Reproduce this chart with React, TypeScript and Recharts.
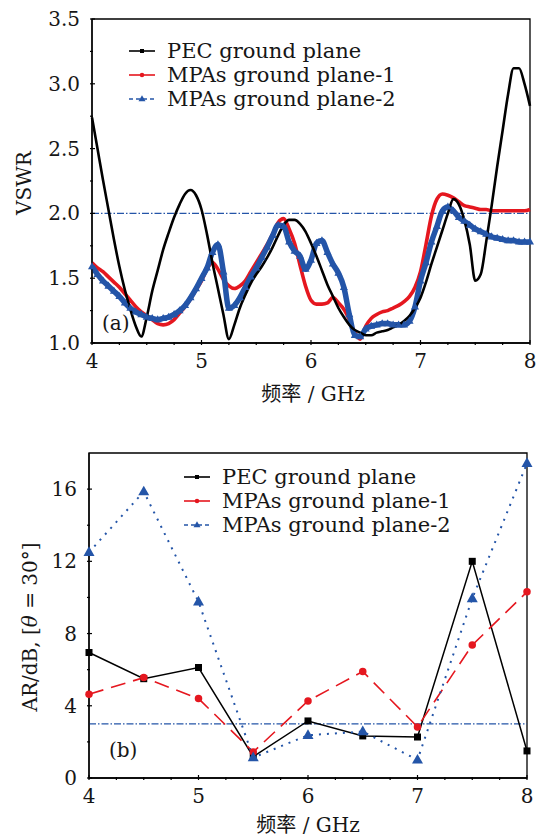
import React from "react";
import {
  LineChart,
  Line,
  XAxis,
  YAxis,
  ReferenceLine,
  ReferenceArea,
  Legend,
} from "recharts";

// ---- VSWR sweep, 4–8 GHz in 50 MHz steps ----
const freqGHz = [
  4.0, 4.05, 4.1, 4.15, 4.2, 4.25, 4.3, 4.35, 4.4, 4.45,
  4.5, 4.55, 4.6, 4.65, 4.7, 4.75, 4.8, 4.85, 4.9, 4.95,
  5.0, 5.05, 5.1, 5.15, 5.2, 5.25, 5.3, 5.35, 5.4, 5.45,
  5.5, 5.55, 5.6, 5.65, 5.7, 5.75, 5.8, 5.85, 5.9, 5.95,
  6.0, 6.05, 6.1, 6.15, 6.2, 6.25, 6.3, 6.35, 6.4, 6.45,
  6.5, 6.55, 6.6, 6.65, 6.7, 6.75, 6.8, 6.85, 6.9, 6.95,
  7.0, 7.05, 7.1, 7.15, 7.2, 7.25, 7.3, 7.35, 7.4, 7.45,
  7.5, 7.55, 7.6, 7.65, 7.7, 7.75, 7.8, 7.85, 7.9, 7.95,
  8.0,
];

const vswrPec = [
  2.74, 2.5, 2.26, 2.03, 1.8, 1.59, 1.41, 1.26, 1.13, 1.05,
  1.2, 1.4, 1.56, 1.72, 1.85, 1.97, 2.07, 2.15, 2.18, 2.14,
  2.03, 1.84, 1.62, 1.42, 1.22, 1.03, 1.14, 1.27, 1.37, 1.46,
  1.53, 1.59, 1.66, 1.74, 1.83, 1.91, 1.95, 1.95, 1.92, 1.86,
  1.77, 1.67, 1.56, 1.45, 1.36, 1.27, 1.2, 1.14, 1.1, 1.08,
  1.06, 1.06, 1.08, 1.09, 1.1, 1.12, 1.14, 1.17, 1.21, 1.27,
  1.35, 1.47, 1.61, 1.74, 1.87, 2.0, 2.11, 2.07, 1.95, 1.76,
  1.48, 1.53, 1.78, 2.06, 2.36, 2.64, 2.92, 3.12, 3.12, 3.0,
  2.83,
];

const vswrMpa1 = [
  1.62, 1.58, 1.55, 1.51, 1.47, 1.43, 1.38, 1.33, 1.28, 1.24,
  1.21, 1.18, 1.15, 1.14, 1.15, 1.18, 1.23, 1.28, 1.34, 1.41,
  1.48, 1.57, 1.62, 1.57, 1.49, 1.44, 1.42, 1.44, 1.48, 1.55,
  1.62, 1.69, 1.76, 1.84, 1.93, 1.96, 1.88, 1.77, 1.6, 1.44,
  1.33, 1.3, 1.3, 1.31, 1.35, 1.31, 1.26, 1.18, 1.08, 1.03,
  1.13, 1.19, 1.22, 1.24, 1.25, 1.27, 1.29, 1.32, 1.36, 1.43,
  1.55, 1.76, 1.98, 2.11, 2.15, 2.14, 2.12, 2.09, 2.06, 2.05,
  2.04, 2.03, 2.03, 2.02, 2.02, 2.02, 2.02, 2.02, 2.02, 2.02,
  2.03,
];

const vswrMpa2 = [
  1.59, 1.53, 1.48, 1.44, 1.4, 1.36, 1.31, 1.27, 1.24, 1.22,
  1.2, 1.19, 1.18, 1.19, 1.2, 1.22, 1.25, 1.29, 1.35, 1.42,
  1.5, 1.58, 1.7, 1.76, 1.55, 1.27, 1.29, 1.35, 1.43, 1.51,
  1.58, 1.66, 1.74, 1.83, 1.91, 1.9, 1.78, 1.71, 1.67, 1.57,
  1.64, 1.77, 1.79, 1.7, 1.61, 1.54, 1.43, 1.22, 1.06, 1.05,
  1.11, 1.13, 1.14, 1.15, 1.15, 1.14, 1.14, 1.14, 1.17, 1.28,
  1.48, 1.62, 1.78, 1.9, 2.02, 2.05, 2.02, 1.97, 1.94, 1.91,
  1.88, 1.86, 1.84, 1.82, 1.81, 1.8, 1.79, 1.79, 1.78, 1.78,
  1.78,
];

// ---- Axial ratio at theta = 30 deg ----
const arFreq = [4, 4.5, 5, 5.5, 6, 6.5, 7, 7.5, 8];
const arPec = [6.95, 5.5, 6.12, 1.18, 3.16, 2.33, 2.27, 12.0, 1.5];
const arMpa1 = [4.64, 5.56, 4.4, 1.44, 4.27, 5.9, 2.83, 7.36, 10.31];
const arMpa2 = [12.5, 15.86, 9.76, 1.13, 2.37, 2.57, 1.0, 9.94, 17.43];

// ---- ticks ----
const freqTicks = [4, 4.25, 4.5, 4.75, 5, 5.25, 5.5, 5.75, 6, 6.25, 6.5, 6.75, 7, 7.25, 7.5, 7.75, 8];
const vswrTicks = [1, 1.25, 1.5, 1.75, 2, 2.25, 2.5, 2.75, 3, 3.25, 3.5];
const arTicks = [0, 2, 4, 6, 8, 10, 12, 14, 16];

const FONT = '"DejaVu Serif", "Liberation Serif", serif';
const INK = "#161616";
const RED = "#e5171f";
const BLUE = "#2455a8";

const seriesOrder = ["pec", "mpa1", "mpa2"];
const seriesStyle: Record<string, any> = {
  pec: { name: "PEC ground plane", color: "#000", marker: "square", legendDash: undefined },
  mpa1: { name: "MPAs ground plane-1", color: RED, marker: "circle", legendDash: undefined },
  mpa2: { name: "MPAs ground plane-2", color: BLUE, marker: "triangle", legendDash: "4 3" },
};

const vswrRows = freqGHz.map((f, i) => ({ f, pec: vswrPec[i], mpa1: vswrMpa1[i], mpa2: vswrMpa2[i] }));
const arRows = arFreq.map((f, i) => ({ f, pec: arPec[i], mpa1: arMpa1[i], mpa2: arMpa2[i] }));

function Marker({ kind, cx, cy, size, color }: any) {
  if (kind === "square") {
    return <rect x={cx - size / 2} y={cy - size / 2} width={size} height={size} fill={color} />;
  }
  if (kind === "circle") {
    return <circle cx={cx} cy={cy} r={size / 2} fill={color} />;
  }
  const h = size * 0.88;
  return (
    <polygon
      points={`${cx},${cy - h * 0.62} ${cx - size / 2},${cy + h * 0.38} ${cx + size / 2},${cy + h * 0.38}`}
      fill={color}
    />
  );
}

const dotOf = (kind: string, size: number, color: string) => (p: any) =>
  p.cx == null ? <g key={p.index} /> : (
    <g key={p.index}>
      <Marker kind={kind} cx={p.cx} cy={p.cy} size={size} color={color} />
    </g>
  );

function LegendBox({ payload, markerSizes }: any) {
  const keys = seriesOrder.filter((k) => (payload ?? []).some((p: any) => p.dataKey === k));
  return (
    <div style={{ fontFamily: FONT, fontSize: 21, lineHeight: "24px", color: INK }}>
      {keys.map((k) => {
        const s = seriesStyle[k];
        return (
          <div key={k} style={{ display: "flex", alignItems: "center", height: 24 }}>
            <svg width={38} height={24} style={{ flex: "none" }}>
              <line x1={0} x2={26} y1={12} y2={12} stroke={s.color} strokeWidth={1.6} strokeDasharray={s.legendDash} />
              <Marker kind={s.marker} cx={13} cy={12} size={markerSizes[k]} color={s.color} />
            </svg>
            <span style={{ whiteSpace: "nowrap" }}>{s.name}</span>
          </div>
        );
      })}
    </div>
  );
}

const xTick = (props: any) => {
  const { x, y, payload } = props;
  const v = payload.value;
  const major = Number.isInteger(v);
  return (
    <g>
      <line x1={x} x2={x} y1={y} y2={y - (major ? 5 : 3)} stroke="#000" strokeWidth={1.2} />
      {major && (
        <text x={x} y={y + 23} textAnchor="middle" fontFamily={FONT} fontSize={20} fill={INK}>
          {v}
        </text>
      )}
    </g>
  );
};

const yTick = (isMajor: (v: number) => boolean, fmt: (v: number) => string) => (props: any) => {
  const { x, y, payload } = props;
  const v = payload.value;
  const major = isMajor(v);
  return (
    <g>
      <line x1={x} x2={x + (major ? 5 : 3)} y1={y} y2={y} stroke="#000" strokeWidth={1.2} />
      {major && (
        <text x={x - 10} y={y + 7} textAnchor="end" fontFamily={FONT} fontSize={20} fill={INK}>
          {fmt(v)}
        </text>
      )}
    </g>
  );
};

const textStyle: React.CSSProperties = {
  position: "absolute",
  fontFamily: FONT,
  fontSize: 20,
  lineHeight: 1,
  color: INK,
  whiteSpace: "nowrap",
};

const centered = (cx: number, cy: number, rotate = 0): React.CSSProperties => ({
  ...textStyle,
  left: cx,
  top: cy,
  transform: `translate(-50%, -50%) rotate(${rotate}deg)`,
});

const xTitle = (
  <>
    <span style={{ fontFamily: '"Noto Sans CJK SC", sans-serif' }}>频率</span> / GHz
  </>
);

function VswrPanel() {
  return (
    <div style={{ position: "absolute", left: 0, top: 0, width: 536, height: 420 }}>
      <LineChart width={536} height={420} data={vswrRows} margin={{ top: 19, right: 6, bottom: 37, left: 0 }}>
        <XAxis
          dataKey="f"
          type="number"
          domain={[4, 8]}
          ticks={freqTicks}
          interval={0}
          tick={xTick}
          tickLine={false}
          tickSize={0}
          height={40}
          axisLine={{ stroke: "#000", strokeWidth: 1.3 }}
        />
        <YAxis
          type="number"
          domain={[1, 3.5]}
          ticks={vswrTicks}
          interval={0}
          tick={yTick((v) => Number.isInteger(v * 2), (v) => v.toFixed(1))}
          tickLine={false}
          tickSize={0}
          width={92}
          allowDataOverflow
          axisLine={{ stroke: "#000", strokeWidth: 1.3 }}
        />
        <ReferenceArea x1={4} x2={8} y1={1} y2={3.5} fill="none" stroke="#000" strokeWidth={1.3} />
        <ReferenceLine y={2} stroke={BLUE} strokeWidth={1.2} strokeDasharray="7 2 1.5 2" />
        <Line
          dataKey="mpa1"
          name={seriesStyle.mpa1.name}
          type="monotone"
          stroke={RED}
          strokeWidth={3.6}
          dot={false}
          isAnimationActive={false}
        />
        {/* dense triangle markers give the blue trace its textured band */}
        <Line
          dataKey="mpa2"
          name={seriesStyle.mpa2.name}
          type="monotone"
          stroke={BLUE}
          strokeWidth={5.5}
          dot={dotOf("triangle", 8, BLUE)}
          isAnimationActive={false}
        />
        <Line
          dataKey="pec"
          name={seriesStyle.pec.name}
          type="monotone"
          stroke="#000"
          strokeWidth={2.6}
          dot={false}
          isAnimationActive={false}
        />
        <Legend
          layout="vertical"
          align="center"
          verticalAlign="middle"
          wrapperStyle={{ top: 39, left: 129, width: 320, height: 72 }}
          content={(p: any) => <LegendBox payload={p.payload} markerSizes={{ pec: 4, mpa1: 4.5, mpa2: 7 }} />}
        />
      </LineChart>
      <div style={centered(24, 183, -90)}>VSWR</div>
      <div style={centered(313, 393)}>{xTitle}</div>
      <div style={{ ...textStyle, left: 102, top: 313 }}>(a)</div>
    </div>
  );
}

function ArPanel() {
  return (
    <div style={{ position: "absolute", left: 0, top: 430, width: 536, height: 408 }}>
      <LineChart width={536} height={408} data={arRows} margin={{ top: 23, right: 9, bottom: 20, left: 0 }}>
        <XAxis
          dataKey="f"
          type="number"
          domain={[4, 8]}
          ticks={freqTicks}
          interval={0}
          tick={xTick}
          tickLine={false}
          tickSize={0}
          height={40}
          axisLine={{ stroke: "#000", strokeWidth: 1.3 }}
        />
        <YAxis
          type="number"
          domain={[0, 18]}
          ticks={arTicks}
          interval={0}
          tick={yTick((v) => v % 4 === 0, (v) => String(v))}
          tickLine={false}
          tickSize={0}
          width={89}
          axisLine={{ stroke: "#000", strokeWidth: 1.3 }}
        />
        <ReferenceArea x1={4} x2={8} y1={0} y2={18} fill="none" stroke="#000" strokeWidth={1.3} />
        <ReferenceLine y={3} stroke={BLUE} strokeWidth={1.2} strokeDasharray="7 2 1.5 2" />
        <Line
          dataKey="pec"
          name={seriesStyle.pec.name}
          type="linear"
          stroke="#000"
          strokeWidth={1.5}
          dot={dotOf("square", 7, "#000")}
          isAnimationActive={false}
        />
        <Line
          dataKey="mpa1"
          name={seriesStyle.mpa1.name}
          type="linear"
          stroke={RED}
          strokeWidth={1.6}
          strokeDasharray="15 8"
          dot={dotOf("circle", 7.5, RED)}
          isAnimationActive={false}
        />
        <Line
          dataKey="mpa2"
          name={seriesStyle.mpa2.name}
          type="linear"
          stroke={BLUE}
          strokeWidth={2}
          strokeDasharray="2 6"
          dot={dotOf("triangle", 11, BLUE)}
          isAnimationActive={false}
        />
        <Legend
          layout="vertical"
          align="center"
          verticalAlign="middle"
          wrapperStyle={{ top: 35, left: 184, width: 320, height: 72 }}
          content={(p: any) => <LegendBox payload={p.payload} markerSizes={{ pec: 4, mpa1: 4.5, mpa2: 7 }} />}
        />
      </LineChart>
      <div style={centered(30, 197, -90)}>
        AR/dB, [<i>θ</i> = 30°]
      </div>
      <div style={centered(308, 394)}>{xTitle}</div>
      <div style={{ ...textStyle, left: 109, top: 310 }}>(b)</div>
    </div>
  );
}

export default function App() {
  return (
    <div
      style={{
        position: "absolute",
        left: 0,
        top: 0,
        width: 536,
        height: 838,
        background: "#fff",
        overflow: "hidden",
      }}
    >
      <VswrPanel />
      <ArPanel />
    </div>
  );
}
